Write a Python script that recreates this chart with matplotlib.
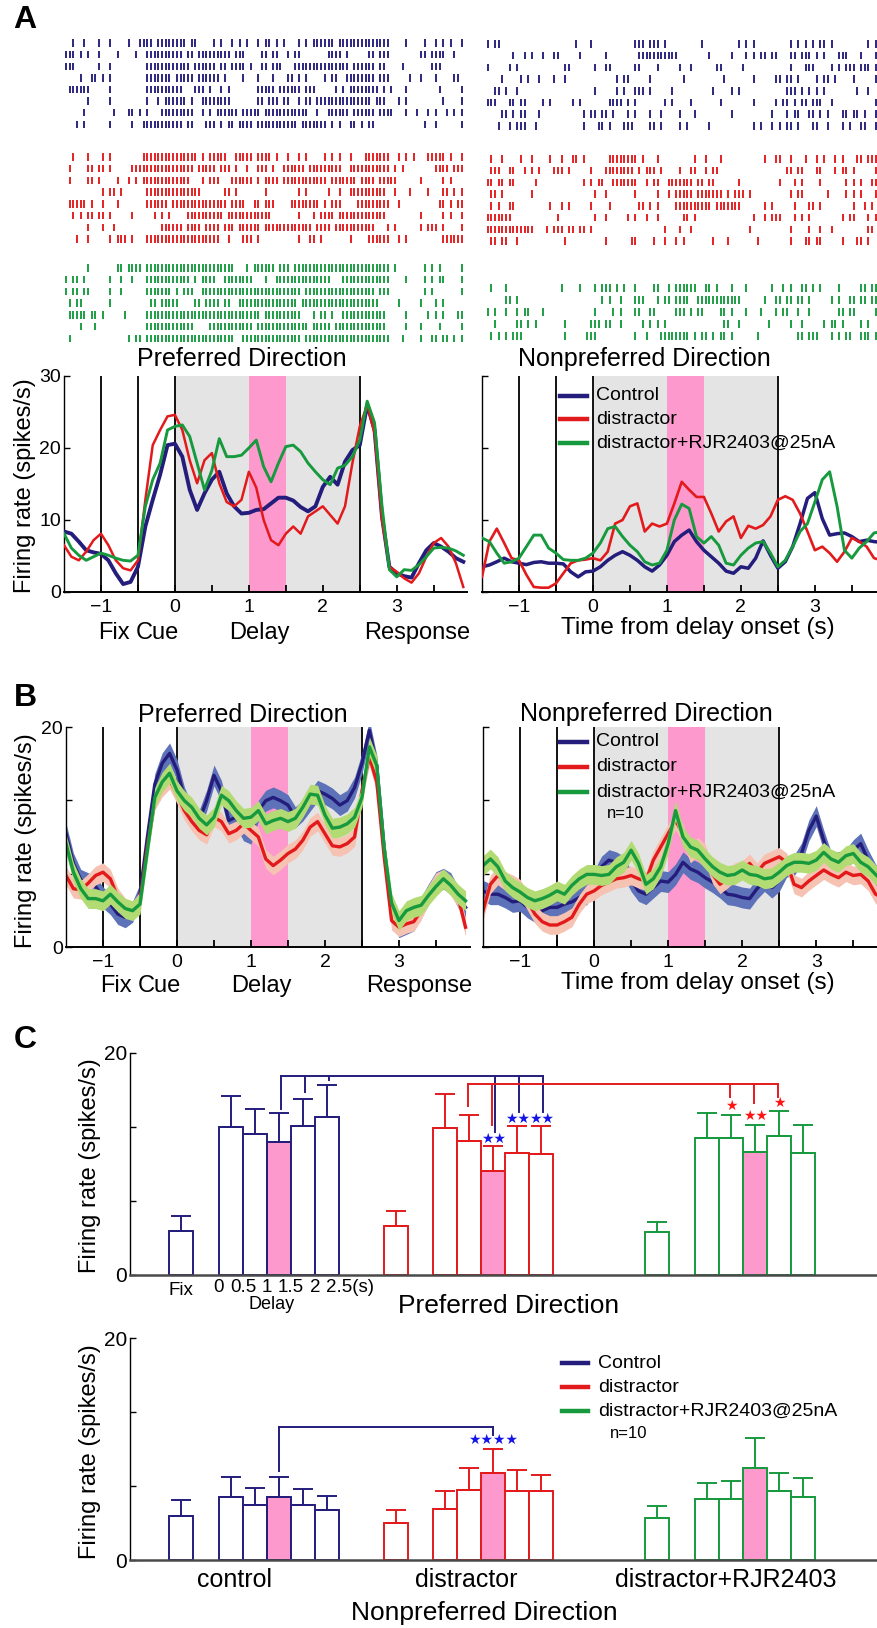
import numpy as np
import matplotlib
matplotlib.use('Agg')
import matplotlib.pyplot as plt
from matplotlib.lines import Line2D

W, H = 877, 1628
plt.rcParams['font.family'] = ['Liberation Sans', 'DejaVu Sans']

NAVY = '#241d7c'
RED = '#e31a1c'
GREEN = '#179a3e'
PINK = '#fd99cd'
GRAY = '#e4e4e4'
STAR_BLUE = '#1414e8'
STAR_RED = '#ff1414'

# raster rows: one char per 50 ms bin from -1.5 s, '|' = spike (spaces only for reading)
raster_pref_control = [
    "..|..|...| ..|....|.. ||||.||||| |||.||.... |.|..|.|.| ..|.||.|.| ...|.|.||| |||.|||||| ||||||||.. ..|....|.. |.|.|..|",
    "|||.|.|..| ....|....| ..|||||||| ||.||.|||| |||||.|||. ...||.||.. |.||...... .||||.|... ..||.|||.. ......||.| |||..|..",
    "|||......| ..|....... ..|||||||| ||||.||||| |.||.||||. |..||.|||. ..|||||||| |||||||.|| ||||.||... .|.......| ||......",
    "....|..||. |.|....... ..|||||||. |||||.|||| ||.|....|. ..|...|... ||.|.|.... |.||..|||| ||||.|||.. ...|..|... |....||.",
    ".||||||... ..|....... ..|||||||| ||...|||.| ..|.|..... ..|||||.|| ||||.|||.. ...|.|.||| |||||.|.|. ..|....... .|.....|",
    "......|... ..|....... ..|..|.||| |||.|..||| |||||..... ..||.|||.| |..|.||.|| |||||||||| |||.|||... |.|....... ..|....|",
    ".....|.... ...|...||. |.|...|||| |||||..|.| .||||||.|| |||.|||||| ||||||..|. .||||||.|| ||||.||||. ..|..|..|. |..|.|.|",
    "...|.|.... ..|.....|. .||||||||| ||.||...|| |.|.||.||| |.|||||||| |||.|||||| |.|.|..||. |.||...... .......|.. |......|",
]
raster_pref_distractor = [
    "..|...|... |.|....... .||||||||| ||||||.|.| ||||..|||| |.||||.|.. |..|.|.... |.|.|..|.. .|||||||.. |.|.|...|| |||.|..|",
    ".|....||.| |.|.....|| |||||||||| |||||.|||| |.|||.|..| ..|||.|..| |||||.|||| |||||..||| ||||||||.| .|........ ||||.|||",
    ".|....||.| ....|..|.| .||||||||| ||||...|.| ||...||||| |.|.||||.| |||||||||| |.|||||||. ||||.||||| ......|... ..|.|...",
    ".......... |.||.|.... ..|||||||| |||||||... ...||.|... ....|..... ...|.|.... .|..|..||| |||||||..| ...|....|. ..||.|.|",
    ".|||||.|.. |...|..... ..||||||.| |||||||||| ||||.||||. .||.|||... .||||||||. |.|||....| ||||||||.. |......... .||.|.||",
    "..|.|.||.| |.|.....|. ....|.|.|. ...||||||| |||.|||||| ||||||.... ...|...|.| |||.|||||| |||||||... ......|... ..|.|..|",
    "......|... |..|...... ......|||| ||.||||.|| ||.|||.||| |||.|||||| |||||||.|| ||.||||||| ||||...|.| ......|.|| |.|....|",
    "...|..|... ..|.|||.|. ..|||||||| |||||||||| ||..|...|| |.|....... ...|..||.| .......|.. ..||||||.. |.|....... ..||||||",
]
raster_pref_rjr = [
    "......|... ....||.||| |.|||||||| |||||||||| ||||||...| .||||||.|| |.|||||||| |||||||||| ||||||||.| .......|.| .|.....|",
    "|.||.|.... ..|..|..|. ..|||||||| ||||.|.||| |..||||||| |...|..||| |||||||||| ||...||||| ||||||||.. ..|....|.| .||....|",
    "|.||.||... ..|..|.... ..|||||||. |.|||..||| |||||||||| |||||||||| ||||.||||| |||||||||| ||||.|||.. .......|.| .......|",
    ".|.||..... ..|....... ...||.|||| |....||.|| ||.||..||| |||||||||| |||.|||||| |||||||||| |||||..... |.....|... |.|.....",
    ".|||||.||. |.....|... ..|||||||| |||||||||| |||||||||| |||.|||||| ||||...|.| |.|..||||| |||||||... ..|.....|. |.|...||",
    "....|...|. .......... ..|||||||| |||||....| |||||||||| |.|||||||| ||||||.||| ||.||||||| |||||||... ..|...|... .|.....|",
    ".|........ .......|.| |.|||||||| |||||||||| ||||||..|| |||||||||| ||||.||||| |||||||||| ||||||||.. .|....|..| |.||.|.|",
]
raster_nonpref_control = [
    ".|.||..... .......... .....|...| .......... .|||.|||.| .........| .........| .|.|...... ...|.|.|.| .||.|..... ....|.|",
    "........|. .|.|..|..| |.....|... ...|...... ..|||||||| |||....... .|.....|.. .|.|.||.|| ...||.|||. |.|...|||. ..|...|",
    ".|.....|.| .......... ..||...... |..||..... .||....|.. ...|..|... ...||..... |......... ...|...||| ....|.|.|| |.|||.|",
    ".....|.... |.|..|...| ..|....... ......|.|| .....|.... ....|..... .....|.... ...|.....| |.||.|.... |.||.|.... |.....|",
    "...||.|..| .......... .......... |.....|.|. .|||.|.... .|........ ..|....|.| .......... ..|||.|.|. |.|....... .|..|..",
    ".|||...||. ||....|.|. ....|.|... ....||||.| .|.......| .|....|... ....|..... ...|.....| .||.|.||.| ||..|..... ......|",
    ".....||.|. ||...|.... .......|.| |.||.|...| .|...|..|. ...|...|.. .......|.. ........|. ..|.||..|| .|.|...||. ||.|..|",
    "....|..|.| ||..|..... .......|.. .||.|...|| |....||.|. ...|.|.... .|........ ...|.|..|. |.||.|...| |..|...|.| ..||..|",
]
raster_nonpref_distractor = [
    "..|..|.... |..|....|. .|..||.|.. ....|||||| ||.|...|.. .......|.. |...|..... ......|..| |..|...|.. |.|..|.|.. .||.|||",
    "..|||..||. .|.|.|...| ||.|.....| ...||||||| |.|.|||.|. ...|..||.. |.||...... .......... ..||.||... ||...|.||. |.....|",
    ".||.||.||. ....|..... .......|.| .||..||||| ||..|.||.. |||||||.|| .||......| .......... |...|.|... .|......|. |.|..||",
    "..||.|.... ...|...... .......... |..|...... .|.....|.. |.|||||.|| |||||.|.|| |.|....... ...|.||... ...|....|. |.|...|",
    "..|.|..||. ........|. .|.|.....| ....|..... ..||.|.|.. ..|||||||| ||.||||||| ......|.|. ....|...|| .|........ |..|.|.",
    ".|||||||.. .......... |......... |..|.....| .|..|..|.. ....||.|.. .......... ...|..|.|| |...|.|.|. .......|.| |...|.|",
    ".||||||||| ||||...|.| ||.||.||.| .......... .........| ...|..|... .......... ..|....... ...|....|. .|..|..... ....||.",
    "..||.||..| .......... ..|....... ...|...... ||....|..| ..|.|..... ..|...|... ....|..... ...|...||. ||.....|.. .||.|..",
]
raster_nonpref_rjr = [
    "..|...|... .......... .|....|... |.|||.|.|. .|....||.. |.||||||.. ||.|...|.. .|......|. .|.|..||.| .|....|... ..||.||",
    "......||.| .......... .......... ..|.|..|.. .|||...|.| |.||||..|| |||||||||| ......|..| |.||.||.|. ....|.|..| |.||.||",
    ".|.|..|..| .||...|... .......... |....|.|.. .||..||... ..|||.|.|| ....||.|.. .|...|...| .||..|..|. ......||.| |.....|",
    "...|.....| |.|.|..... ..|......| ||.||..|.. ...|.|.|.| .......... .....||..| .......|.. ...|..|... ..|.||.|.. ..|.|..",
    "..|.|.|.|| |......... ..|.....|| |......... .|..|...|| ||||||.|.| |.|.||.|.. ....|..... .....||.|| |...|.|.|| ..|||.|",
]

# PSTH sample times (s) and firing rates (spikes/s)
t_psth = np.round(np.arange(-1.5, 3.95, 0.1), 2)

a_pref_control = [8.4, 8.1, 7.0, 5.8, 5.5, 5.3, 4.4, 2.6, 1.1, 1.4,
                  3.5, 9.1, 12.8, 16.3, 20.4, 20.6, 18.8, 14.2, 11.4, 13.7,
                  15.6, 16.7, 13.7, 11.9, 10.9, 11.0, 11.4, 11.5, 12.3, 13.1,
                  13.1, 12.7, 11.8, 11.2, 11.9, 14.6, 16.0, 14.9, 18.1, 19.7,
                  20.4, 26.0, 22.5, 10.5, 3.5, 2.6, 2.2, 2.0, 4.0, 5.8,
                  6.8, 6.3, 5.6, 4.7, 4.2]
a_pref_distractor = [6.5, 4.9, 4.4, 5.6, 7.2, 8.1, 6.5, 4.4, 3.3, 3.0,
                     4.4, 12.8, 20.4, 22.5, 24.4, 24.6, 22.5, 18.3, 15.1, 18.3,
                     19.3, 15.1, 12.5, 11.9, 12.8, 16.7, 14.5, 10.0, 7.2, 6.5,
                     8.1, 9.1, 8.1, 10.5, 11.2, 11.9, 10.7, 9.5, 11.9, 17.9,
                     23.0, 26.0, 22.0, 10.0, 3.5, 2.8, 1.9, 1.3, 2.6, 4.9,
                     6.8, 7.5, 6.3, 4.0, 0.7]
a_pref_rjr = [8.1, 6.1, 5.1, 4.4, 4.9, 5.4, 5.1, 4.7, 4.4, 4.3,
              5.1, 11.9, 15.6, 17.9, 22.5, 23.0, 23.2, 21.6, 17.9, 14.2,
              16.9, 21.3, 18.8, 18.8, 19.0, 20.0, 21.1, 17.4, 15.3, 17.9,
              20.2, 20.4, 19.5, 17.9, 16.7, 15.6, 14.9, 17.2, 17.6, 18.8,
              21.1, 26.5, 23.5, 12.0, 3.1, 2.1, 3.1, 3.0, 3.8, 4.9,
              6.1, 6.2, 6.1, 5.7, 5.1]
a_nonpref_control = [3.5, 3.75, 4.2, 4.7, 4.2, 4.0, 3.8, 4.1, 4.2, 4.0,
                     4.0, 3.9, 2.8, 2.1, 2.8, 2.9, 3.5, 4.4, 5.1, 5.6,
                     5.1, 4.4, 3.5, 2.9, 3.75, 5.1, 7.0, 7.9, 8.6, 7.0,
                     5.8, 4.9, 4.0, 2.9, 2.6, 3.5, 3.3, 4.7, 7.1, 5.1,
                     3.3, 4.2, 6.3, 9.5, 13.0, 13.8, 10.2, 7.9, 8.1, 8.2,
                     7.7, 7.0, 7.2, 7.0, 6.9]
a_nonpref_distractor = [2.1, 7.0, 8.8, 6.8, 4.7, 4.4, 2.4, 0.7, 0.6, 0.6,
                        1.2, 2.6, 4.0, 4.4, 4.5, 4.7, 4.4, 5.6, 9.5, 10.0,
                        11.9, 12.3, 8.4, 9.5, 9.1, 9.5, 12.3, 15.3, 14.2, 13.2,
                        13.2, 10.9, 8.4, 9.8, 10.5, 7.5, 9.2, 8.8, 9.3, 10.5,
                        12.8, 13.3, 12.8, 10.9, 8.4, 5.8, 6.3, 5.4, 4.2, 5.6,
                        7.5, 7.0, 6.3, 4.7, 4.4]
a_nonpref_rjr = [7.5, 7.0, 5.4, 4.0, 4.2, 4.7, 6.3, 7.9, 7.9, 6.1,
                 5.4, 4.5, 4.4, 4.4, 4.7, 5.4, 6.8, 8.8, 9.1, 7.7,
                 6.5, 5.6, 4.2, 3.75, 4.0, 5.8, 10.0, 12.2, 11.6, 7.7,
                 6.8, 7.7, 6.5, 4.0, 3.75, 5.1, 6.1, 6.8, 7.0, 5.4,
                 3.5, 4.4, 6.3, 8.4, 9.5, 12.5, 15.6, 16.7, 11.9, 5.8,
                 4.7, 6.1, 7.0, 8.2, 8.4]

b_pref_control = [10.3, 7.6, 6.1, 5.8, 5.5, 4.5, 3.9, 3.0, 2.7, 3.2,
                  4.8, 10.0, 14.8, 16.7, 17.6, 16.1, 13.6, 12.0, 11.5, 13.3,
                  15.6, 14.2, 11.5, 11.8, 10.6, 10.3, 12.4, 13.3, 13.6, 13.3,
                  12.9, 11.8, 12.4, 13.3, 14.2, 13.9, 13.5, 12.9, 13.3, 14.5,
                  16.7, 19.7, 16.5, 9.0, 3.3, 1.8, 2.1, 2.4, 3.6, 4.8,
                  5.9, 6.2, 5.8, 4.5, 3.6]
b_pref_distractor = [6.5, 5.3, 5.2, 5.8, 6.5, 6.8, 6.2, 4.5, 3.6, 3.3,
                     4.2, 9.1, 13.3, 14.5, 15.2, 13.9, 12.4, 11.4, 10.6, 10.2,
                     11.8, 11.4, 10.3, 10.6, 11.2, 10.6, 10.0, 8.0, 7.4, 7.9,
                     8.5, 8.9, 9.7, 10.9, 11.4, 10.3, 9.2, 9.1, 9.4, 10.0,
                     14.2, 17.3, 15.0, 8.2, 2.4, 1.8, 2.1, 2.3, 3.3, 4.8,
                     5.9, 6.2, 5.5, 4.5, 1.8]
b_pref_rjr = [9.4, 6.8, 5.3, 4.4, 4.4, 4.2, 4.8, 4.1, 3.5, 3.3,
              3.9, 8.8, 13.6, 15.0, 15.8, 14.2, 13.3, 12.7, 11.7, 11.1,
              11.8, 13.8, 13.3, 12.4, 11.7, 11.8, 12.4, 11.2, 11.5, 11.7,
              11.4, 11.7, 12.7, 13.9, 13.8, 12.0, 10.8, 10.9, 11.2, 11.8,
              13.6, 18.2, 16.5, 9.0, 4.0, 2.4, 3.3, 3.6, 3.8, 4.7,
              5.5, 6.2, 5.6, 4.8, 4.2]
b_nonpref_control = [5.1, 4.8, 4.8, 4.5, 4.1, 4.2, 3.6, 3.2, 3.3, 3.6,
                     3.6, 3.9, 4.1, 4.5, 4.8, 6.0, 7.3, 7.9, 7.7, 7.3,
                     6.0, 5.1, 4.8, 5.4, 6.0, 5.9, 6.6, 7.7, 7.1, 6.8,
                     6.3, 5.9, 5.4, 4.8, 4.7, 4.5, 4.4, 5.3, 6.0, 5.4,
                     6.0, 7.3, 7.4, 8.5, 10.6, 11.9, 9.7, 7.7, 7.7, 7.9,
                     8.8, 9.4, 7.9, 6.6, 6.0]
b_nonpref_distractor = [3.3, 5.7, 6.5, 6.0, 5.7, 5.3, 4.2, 3.0, 2.3, 2.0,
                        2.0, 2.3, 2.7, 3.9, 4.8, 5.1, 5.6, 5.9, 6.2, 6.3,
                        6.5, 6.2, 6.0, 7.9, 9.1, 10.3, 11.5, 10.3, 8.5, 9.1,
                        8.5, 6.6, 5.7, 6.2, 6.8, 7.0, 7.6, 6.8, 7.6, 7.9,
                        8.2, 7.7, 5.7, 5.4, 6.0, 6.5, 7.0, 6.6, 6.3, 6.8,
                        6.5, 6.6, 6.0, 4.8, 4.5]
b_nonpref_rjr = [7.4, 8.0, 7.3, 6.0, 5.4, 5.0, 4.5, 4.2, 4.4, 4.7,
                 5.1, 4.8, 5.6, 6.2, 6.6, 6.6, 6.5, 6.6, 7.3, 7.7,
                 8.8, 7.6, 5.7, 6.2, 7.3, 9.4, 12.4, 10.0, 9.1, 8.8,
                 8.0, 7.3, 6.8, 6.5, 6.6, 7.0, 6.6, 6.5, 6.2, 6.3,
                 6.8, 7.4, 7.7, 7.7, 7.6, 7.9, 8.6, 8.0, 7.7, 8.3,
                 8.5, 7.7, 7.3, 6.6, 6.0]
b_sem = [0.95, 0.85, 0.9]   # control, distractor, distractor+RJR

# bar chart (C)
group_names = ['control', 'distractor', 'distractor+RJR2403']
group_x0 = [0.0, 8.94, 19.85]
group_label_x = [2.25, 11.9, 22.7]
delay_tick_labels = ['0', '0.5', '1', '1.5', '2']

pref_fix = [4.0, 4.4, 3.9]
pref_fix_sem = [1.3, 1.4, 0.9]
pref_delay = [[13.3, 12.7, 12.0, 13.4, 14.2],
              [13.2, 12.1, 9.4, 11.0, 10.9],
              [12.3, 12.3, 11.1, 12.5, 11.0]]
pref_delay_sem = [[2.8, 2.3, 2.6, 2.5, 2.9],
                  [3.1, 2.3, 2.2, 2.4, 2.5],
                  [2.3, 2.1, 2.4, 2.3, 2.5]]
nonpref_fix = [4.0, 3.3, 3.8]
nonpref_fix_sem = [1.4, 1.2, 1.1]
nonpref_delay = [[5.7, 5.0, 5.7, 5.0, 4.5],
                 [4.6, 6.3, 7.8, 6.2, 6.2],
                 [5.5, 5.5, 8.3, 6.2, 5.7]]
nonpref_delay_sem = [[1.8, 1.5, 1.8, 1.4, 1.3],
                     [1.6, 2.0, 2.2, 1.9, 1.5],
                     [1.4, 1.6, 2.7, 1.6, 1.7]]

# significance brackets: (group, delay bar, lower end of drop line)
pref_blue_level = 17.9
pref_blue_drops = [(0, 2, 15.0), (0, 3, 16.5), (0, 4, 17.6), (1, 2, 12.9), (1, 3, 14.7), (1, 4, 14.7)]
pref_blue_stars = [(1, 2, 12.25, '★★'), (1, 3, 14.1, '★★'), (1, 4, 14.1, '★★')]
pref_red_level = 17.2
pref_red_drops = [(1, 1, 15.2), (1, 2, 13.5), (2, 1, 16.0), (2, 2, 15.5), (2, 3, 16.0)]
pref_red_stars = [(2, 1, 15.2, '★'), (2, 2, 14.3, '★★'), (2, 3, 15.5, '★')]
nonpref_blue_level = 12.0
nonpref_blue_drops = [(0, 2, 8.0), (1, 2, 11.3)]
nonpref_blue_stars = [(1, 2, 10.8, '★★★★')]

legend_labels = ['Control', 'distractor', 'distractor+RJR2403@25nA']
series_colors = [NAVY, RED, GREEN]
band_colors = ['#5d72b8', '#f6c2b2', '#b2db74']


fig = plt.figure(figsize=(W / 100, H / 100), dpi=100)


def px_axes(x0, y0, x1, y1):
    return fig.add_axes([x0 / W, 1 - y1 / H, (x1 - x0) / W, (y1 - y0) / H])


def ftext(x, y, s, **kw):
    kw.setdefault('ha', 'center')
    kw.setdefault('va', 'center')
    fig.text(x / W, 1 - y / H, s, **kw)


def fig_legend(xl0, xl1, xt, ys, size):
    for y, lab, c in zip(ys, legend_labels, series_colors):
        fig.add_artist(Line2D([xl0 / W, xl1 / W], [1 - y / H, 1 - y / H], color=c, lw=3.2,
                              transform=fig.transFigure))
        ftext(xt, y, lab, ha='left', fontsize=size)


def draw_raster(ax, rows, y_start, y_step, color):
    for k, row in enumerate(rows):
        s = row.replace(' ', '')
        bins = np.array([i for i, c in enumerate(s) if c == '|'])
        times = -1.5 + (bins + 0.5) * 0.05
        y = y_start + k * y_step
        ax.vlines(times, y - 3.7, y + 3.7, color=color, lw=1.35)


def setup_psth(ax, xmax, ymax, yticks, ylabels):
    ax.set_xlim(-1.5, xmax)
    ax.set_ylim(0, ymax)
    ax.axvspan(0, 2.5, color=GRAY, lw=0, zorder=0)
    ax.axvspan(1, 1.5, color=PINK, lw=0, zorder=0.5)
    for x in (-1, -0.5, 0, 2.5):
        ax.axvline(x, color='k', lw=1.3, zorder=1)
    for sp in ('top', 'right'):
        ax.spines[sp].set_visible(False)
    ax.spines['left'].set_linewidth(1.0)
    ax.spines['bottom'].set_linewidth(1.4)
    ax.set_xticks([-1, 0, 1, 2, 3])
    ax.set_xticks(np.arange(-1, 4.0, 0.5), minor=True)
    ax.set_yticks(yticks)
    ax.set_yticklabels(ylabels)
    ax.tick_params(axis='x', which='both', direction='in', length=5, width=1.3, labelsize=14, pad=5)
    ax.tick_params(axis='y', direction='in', length=4, width=1.0, labelsize=14, pad=2)


# ---------------- A: rasters ----------------
axr1 = px_axes(64, 30, 464, 345)
axr1.set_xlim(-1.5, 3.905)
axr1.set_ylim(345, 30)
axr1.axis('off')
draw_raster(axr1, raster_pref_control, 43, 11.6, NAVY)
draw_raster(axr1, raster_pref_distractor, 157, 11.7, RED)
draw_raster(axr1, raster_pref_rjr, 268, 11.7, GREEN)

axr2 = px_axes(482, 30, 877, 345)
axr2.set_xlim(-1.5, 3.84)
axr2.set_ylim(345, 30)
axr2.axis('off')
draw_raster(axr2, raster_nonpref_control, 44, 11.7, NAVY)
draw_raster(axr2, raster_nonpref_distractor, 159, 11.7, RED)
draw_raster(axr2, raster_nonpref_rjr, 288, 12.0, GREEN)

# ---------------- A: PSTH ----------------
axa1 = px_axes(64, 376, 467, 592)
setup_psth(axa1, 3.95, 30, [0, 10, 20, 30], ['0', '10', '20', '30'])
for vals, c, lw in zip([a_pref_control, a_pref_distractor, a_pref_rjr], series_colors, [2.8, 1.8, 2.1]):
    axa1.plot(t_psth, vals, color=c, lw=lw, zorder=3)

axa2 = px_axes(482, 376, 877, 592)
setup_psth(axa2, 3.84, 30, [0, 10, 20, 30], ['', '', '', ''])
for vals, c, lw in zip([a_nonpref_control, a_nonpref_distractor, a_nonpref_rjr], series_colors, [2.5, 1.9, 2.1]):
    axa2.plot(t_psth, vals, color=c, lw=lw, zorder=3)

# ---------------- B: population PSTH ----------------
axb1 = px_axes(66, 727, 470, 947)
setup_psth(axb1, 3.96, 20, [0, 20 / 3, 40 / 3, 20], ['0', '', '', '20'])
for vals, c, bc, s in zip([b_pref_control, b_pref_distractor, b_pref_rjr], series_colors, band_colors, b_sem):
    v = np.array(vals)
    axb1.fill_between(t_psth, v - s, v + s, color=bc, lw=0, zorder=2)
    axb1.plot(t_psth, v, color=c, lw=2.4, zorder=2)

axb2 = px_axes(483, 727, 877, 947)
setup_psth(axb2, 3.82, 20, [0, 20 / 3, 40 / 3, 20], ['', '', '', ''])
for vals, c, bc, s in zip([b_nonpref_control, b_nonpref_distractor, b_nonpref_rjr], series_colors, band_colors, b_sem):
    v = np.array(vals)
    axb2.fill_between(t_psth, v - s, v + s, color=bc, lw=0, zorder=2)
    axb2.plot(t_psth, v, color=c, lw=2.4, zorder=2)


# ---------------- C: bar charts ----------------
def bar_x(g, i=None):
    return group_x0[g] if i is None else group_x0[g] + 2.08 + i


def draw_bars(ax, fix, fix_sem, delay, delay_sem):
    faces = ['white', 'white', 'white', PINK, 'white', 'white']
    for g in range(3):
        col = series_colors[g]
        xs = [bar_x(g)] + [bar_x(g, i) for i in range(5)]
        hs = [fix[g]] + list(delay[g])
        es = [fix_sem[g]] + list(delay_sem[g])
        ax.bar(xs, hs, width=1.0, color=faces, edgecolor=col, linewidth=1.4, zorder=2)
        ax.errorbar(xs, hs, yerr=[np.zeros(6), es], fmt='none', ecolor=col,
                    elinewidth=1.4, capsize=7, capthick=1.4, zorder=3)


def draw_bracket(ax, level, drops, color, dx):
    xs = [bar_x(g, i) + dx for g, i, _ in drops]
    ax.plot([min(xs), max(xs)], [level, level], color=color, lw=1.4, zorder=4)
    for (g, i, end), x in zip(drops, xs):
        ax.plot([x, x], [level, end], color=color, lw=1.4, zorder=4)


def draw_stars(ax, stars, color):
    for g, i, y, s in stars:
        ax.text(bar_x(g, i), y, s, color=color, ha='center', va='center',
                fontsize=10, family=['DejaVu Sans'], zorder=5)


def setup_bars(ax):
    ax.set_xlim(-2.125, 29.0)
    ax.set_ylim(0, 20)
    for sp in ('top', 'right'):
        ax.spines[sp].set_visible(False)
    ax.spines['bottom'].set_color('#4a4a4a')
    ax.spines['bottom'].set_linewidth(1.8)
    ax.spines['left'].set_linewidth(1.0)
    ax.set_xticks([])
    ax.set_yticks([0, 20 / 3, 40 / 3, 20])
    ax.set_yticklabels(['0', '', '', '20'])
    ax.tick_params(axis='y', direction='in', length=4, width=1.0, labelsize=15, pad=2)


axc1 = px_axes(130, 1053, 877, 1275)
setup_bars(axc1)
draw_bars(axc1, pref_fix, pref_fix_sem, pref_delay, pref_delay_sem)
draw_bracket(axc1, pref_blue_level, pref_blue_drops, NAVY, 0.07)
draw_bracket(axc1, pref_red_level, pref_red_drops, RED, -0.07)
draw_stars(axc1, pref_blue_stars, STAR_BLUE)
draw_stars(axc1, pref_red_stars, STAR_RED)
trans = axc1.get_xaxis_transform()
axc1.text(bar_x(0), -0.07, 'Fix', transform=trans, ha='center', va='center', fontsize=13.5)
for i, lab in enumerate(delay_tick_labels):
    axc1.text(bar_x(0, i) - 0.5, -0.055, lab, transform=trans, ha='center', va='center', fontsize=13.5)
axc1.text(bar_x(0, 5) - 1.04, -0.055, '2.5(s)', transform=trans, ha='left', va='center', fontsize=13.5)
axc1.text(bar_x(0, 2) - 0.3, -0.135, 'Delay', transform=trans, ha='center', va='center', fontsize=13)

axc2 = px_axes(130, 1338, 877, 1560)
setup_bars(axc2)
draw_bars(axc2, nonpref_fix, nonpref_fix_sem, nonpref_delay, nonpref_delay_sem)
draw_bracket(axc2, nonpref_blue_level, nonpref_blue_drops, NAVY, 0.0)
draw_stars(axc2, nonpref_blue_stars, STAR_BLUE)
trans2 = axc2.get_xaxis_transform()
for name, gx in zip(group_names, group_label_x):
    axc2.text(gx, -0.09, name, transform=trans2, ha='center', va='center', fontsize=18)

# ---------------- texts ----------------
ftext(25, 20, 'A', fontsize=23, fontweight='bold')
ftext(25, 698, 'B', fontsize=23, fontweight='bold')
ftext(25, 1040, 'C', fontsize=23, fontweight='bold')

ftext(242, 359, 'Preferred Direction', fontsize=18)
ftext(644, 359, 'Nonpreferred Direction', fontsize=18)
ftext(243, 715, 'Preferred Direction', fontsize=18)
ftext(646, 714, 'Nonpreferred Direction', fontsize=18)

for yy, dx in ((633, 0), (986, 2)):
    ftext(114 + dx, yy, 'Fix', fontsize=17)
    ftext(157 + dx, yy, 'Cue', fontsize=17)
    ftext(259 + dx, yy, 'Delay', fontsize=17)
    ftext(417 + dx, yy, 'Response', fontsize=17)
ftext(698, 628, 'Time from delay onset (s)', fontsize=17.5)
ftext(698, 983, 'Time from delay onset (s)', fontsize=17.5)

ftext(25, 486, 'Firing rate (spikes/s)', fontsize=17, rotation=90)
ftext(26, 841, 'Firing rate (spikes/s)', fontsize=17, rotation=90)
ftext(90, 1166, 'Firing rate (spikes/s)', fontsize=17, rotation=90)
ftext(90, 1452, 'Firing rate (spikes/s)', fontsize=17, rotation=90)

ftext(509, 1306, 'Preferred Direction', fontsize=19)
ftext(484, 1613, 'Nonpreferred Direction', fontsize=19)

fig_legend(560, 587, 596, [396, 419, 443], 14)
fig_legend(560, 587, 596, [742, 767, 792], 14)
ftext(607, 814, 'n=10', ha='left', fontsize=12)
fig_legend(562, 588, 598, [1363, 1387, 1411], 14)
ftext(610, 1434, 'n=10', ha='left', fontsize=12)

fig.savefig('out.png', dpi=100)
